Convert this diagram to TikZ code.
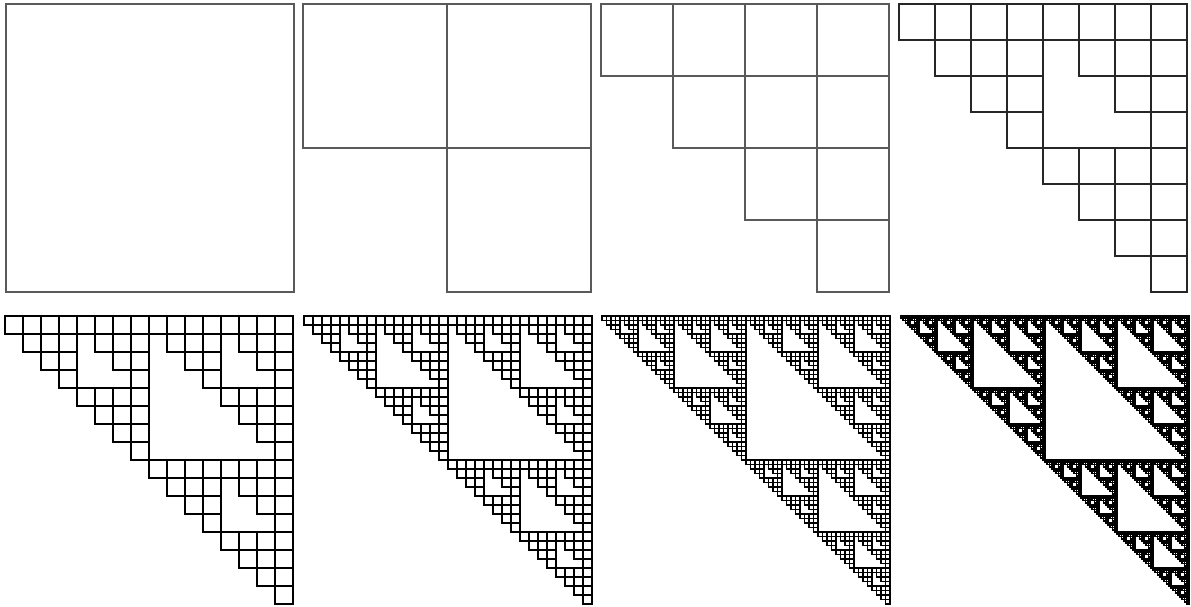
\documentclass[tikz,border=0pt]{standalone}
\begin{document}
\begin{tikzpicture}[x=1pt,y=-1pt,
  sqtop/.style={draw=black!65,line width=2pt},
  sqtopb/.style={draw=black!85,line width=1.8pt},
  sqbot/.style={draw=black,line width=1.6pt},
  sqfine/.style={draw=black,line width=1.5pt},
  sqdense/.style={draw=black,line width=1.8pt}]
\useasboundingbox (0,0) rectangle (1191,606);
\def\sqstyle{sqtop}
\def\sier#1#2#3#4{%
  \ifnum#1=0
    \draw[\sqstyle] (#2,#3) rectangle ++(#4,#4);
  \else
    \begingroup
    \pgfmathsetmacro\h{#4/2}%
    \pgfmathsetmacro\xm{#2+\h}%
    \pgfmathsetmacro\ym{#3+\h}%
    \pgfmathtruncatemacro\l{#1-1}%
    \edef\next{\noexpand\sier{\l}{#2}{#3}{\h}\noexpand\sier{\l}{\xm}{#3}{\h}\noexpand\sier{\l}{\xm}{\ym}{\h}}%
    \expandafter\endgroup\next
  \fi}
% top row
\def\sqstyle{sqtop}
\sier{0}{6}{4}{288}
\sier{1}{303}{4}{288}
\sier{2}{601}{4}{288}
\def\sqstyle{sqtopb}
\sier{3}{899}{4}{288}
% bottom row
\def\sqstyle{sqbot}
\sier{4}{5}{316}{288}
\sier{5}{304}{316}{288}
\def\sqstyle{sqfine}
\sier{6}{602}{316}{288}
\def\sqstyle{sqdense}
\sier{7}{901}{316}{288}
\end{tikzpicture}
\end{document}
